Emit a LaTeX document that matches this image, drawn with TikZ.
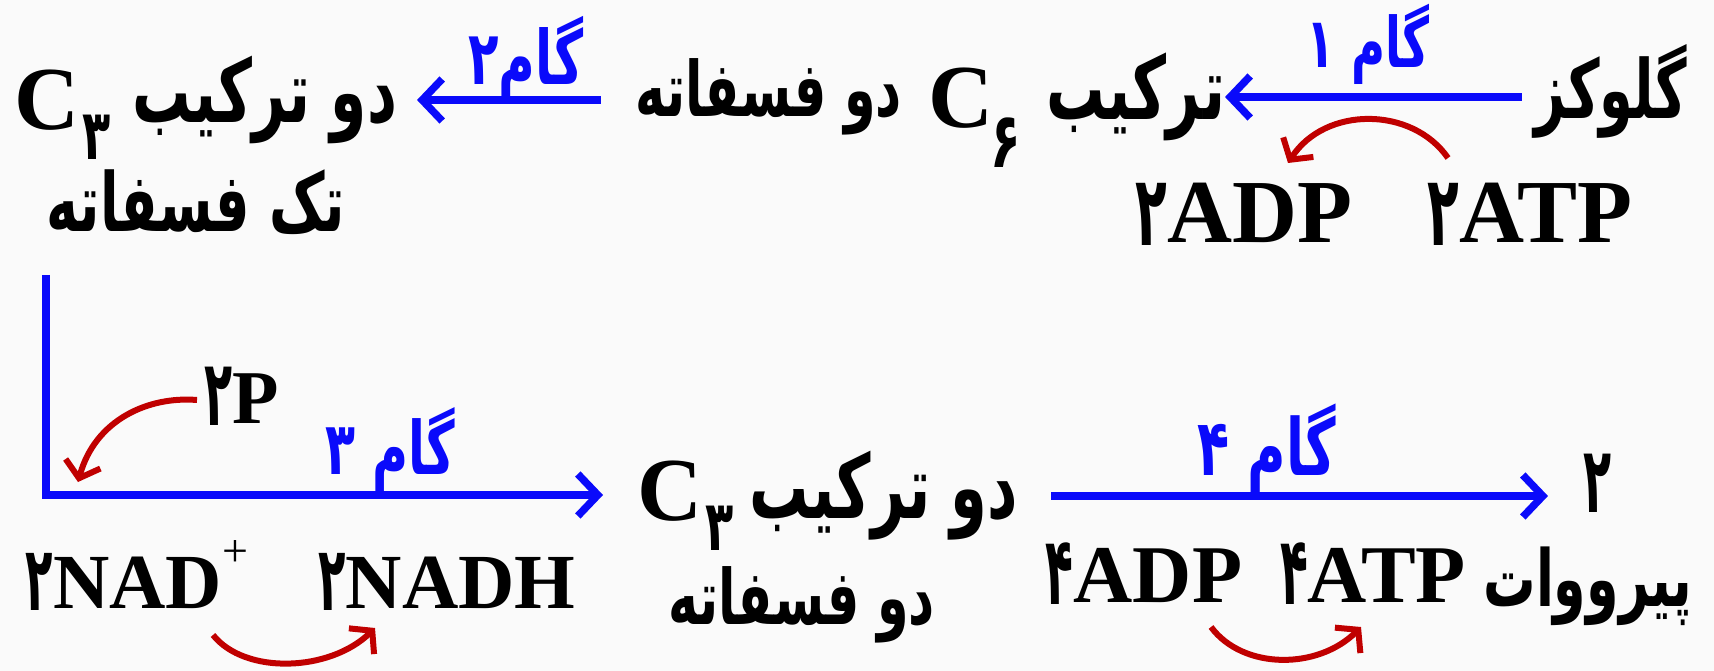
\documentclass[tikz,border=0pt]{standalone}
\usepackage{fontspec}
\usepackage{graphicx}
\setmainfont{Liberation Serif}
\newfontfamily\fa[Script=Arabic]{DejaVu Sans}
\TeXXeTstate=1
\usetikzlibrary{arrows.meta}
\definecolor{flowblue}{RGB}{10,10,250}
\definecolor{sidered}{RGB}{192,0,0}
\definecolor{bgc}{RGB}{250,250,250}
% Persian text scaled to a given width, stretched vertically
\newcommand{\fw}[2]{\resizebox{#1pt}{!}{\scalebox{1}[1.5]{\fa\bfseries #2}}}
% Persian digit: font size, horizontal scale, raise, digit
\newcommand{\pd}[4]{\raisebox{#3pt}{\scalebox{#2}[1]{\fa\bfseries\fontsize{#1}{#1}\selectfont #4}}}
\begin{document}
\begin{tikzpicture}[x=1pt,y=-1pt,
  fa/.style={inner sep=0pt,outer sep=0pt},
  gam/.style={inner sep=0pt,outer sep=0pt,text=flowblue},
  lat/.style={inner sep=0pt,outer sep=0pt,anchor=base,font=\bfseries\fontsize{90}{96}\selectfont},
  subd/.style={inner sep=0pt,outer sep=0pt,anchor=base west},
  flow/.style={draw=flowblue,line width=7.5pt,-{Straight Barb[length=20pt,width=42pt]}},
  side/.style={draw=sidered,line width=6pt,-{Straight Barb[length=15pt,width=36pt]}}]
\fill[bgc] (0,0) rectangle (1714,671);
\useasboundingbox (0,0) rectangle (1714,671);
% top row
\node[fa] (glu) at (1611,91) {\fw{153}{\beginR گلوکز\endR}};
\node[gam] (g1) at (1368,44) {\fw{123}{\beginR گام ۱\endR}};
\node[fa] (trk1) at (1136,97) {\fw{178}{\beginR ترکیب\endR}};
\node[lat,anchor=base west] (c6) at (928,128) {C};
\node[subd] (s6) at (990,168) {\pd{77}{0.65}{0}{۶}};
\node[fa] (dofos1) at (769,97) {\fw{266}{\beginR دو فسفاته\endR}};
\node[gam] (g2) at (526,60) {\fw{115}{\beginR گام۲\endR}};
\node[fa] (dotrk1) at (265,100) {\fw{264}{\beginR دو ترکیب\endR}};
\node[lat,anchor=base west] (c3a) at (14,130) {C};
\node[subd] (s3a) at (82,160) {\pd{70}{0.66}{0}{۳}};
\node[fa] (tak) at (196,202) {\fw{298}{\beginR تک فسفاته\endR}};
\node[lat] (adp2) at (1244,243) {\pd{98}{0.53}{-3}{۲}ADP};
\node[lat] (atp2) at (1530,243) {\pd{98}{0.53}{-3}{۲}ATP};
% bottom row
\node[lat,font=\bfseries\fontsize{76}{80}\selectfont] (p2) at (242,423) {\pd{92}{0.5}{-2}{۲}P};
\node[gam] (g3) at (390,450) {\fw{130}{\beginR گام ۳\endR}};
\node[lat,anchor=base west] (c3b) at (637,520) {C};
\node[subd] (s3b) at (705,550) {\pd{70}{0.66}{0}{۳}};
\node[fa] (dotrk2) at (884,496) {\fw{268}{\beginR دو ترکیب\endR}};
\node[fa] (dofos2) at (802,605) {\fw{266}{\beginR دو فسفاته\endR}};
\node[gam] (g4) at (1267,449) {\fw{139}{\beginR گام ۴\endR}};
\node[fa,anchor=base] (two) at (1598,512) {\pd{92}{0.5}{0}{۲}};
\node[fa] (pyr) at (1588,586) {\fw{209}{\beginR پیرووات\endR}};
\node[lat,font=\bfseries\fontsize{82}{90}\selectfont] (adp4) at (1144,602) {\pd{95}{0.48}{-2}{۴}ADP};
\node[lat,font=\bfseries\fontsize{82}{90}\selectfont] (atp4) at (1373,602) {\pd{95}{0.48}{-2}{۴}ATP};
\node[lat,font=\bfseries\fontsize{78}{84}\selectfont] (nad) at (137,608) {\pd{90}{0.5}{-2}{۲}NAD\raisebox{42pt}{\mdseries\fontsize{46}{46}\selectfont +}};
\node[lat,font=\bfseries\fontsize{78}{84}\selectfont] (nadh) at (447,608) {\pd{90}{0.5}{-2}{۲}NADH};
% blue flow arrows
\draw[flow] ([xshift=-13pt]glu.west |- trk1.east) -- (trk1.east);
\draw[flow] ([xshift=-35pt]dofos1.west |- dotrk1.east) -- ([xshift=20pt]dotrk1.east);
\coordinate (Ltop) at (46,275);
\coordinate (Lend) at (603,495);
\draw[flow] (Ltop) |- (Lend);
\draw[flow] ([xshift=33pt]dotrk2.east) -- ([xshift=-36pt]two.west |- dotrk2.east);
% red side arrows
\coordinate (r1a) at (1448,158); \coordinate (r1b) at (1288,163);
\draw[side] (r1a) .. controls (1412,106) and (1325,106) .. (r1b);
\coordinate (r2a) at (197,400); \coordinate (r2b) at (78,482);
\draw[side] (r2a) .. controls (148,396) and (95,420) .. (r2b);
\coordinate (r3a) at (213,635); \coordinate (r3b) at (375,628);
\draw[side] (r3a) .. controls (245,675) and (330,672) .. (r3b);
\coordinate (r4a) at (1211,627); \coordinate (r4b) at (1361,627);
\draw[side] (r4a) .. controls (1243,670) and (1318,670) .. (r4b);
\end{tikzpicture}
\end{document}
